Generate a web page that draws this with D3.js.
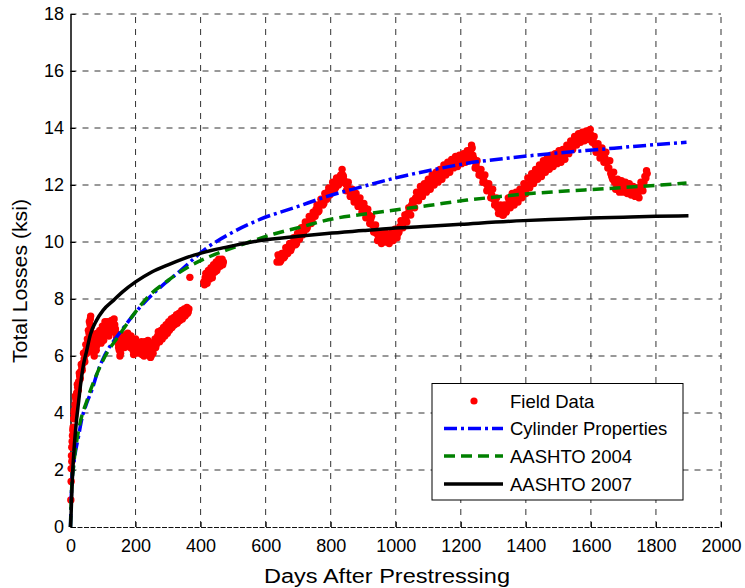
<!DOCTYPE html>
<html><head><meta charset="utf-8">
<script src="https://cdn.jsdelivr.net/npm/d3@7"></script>
<style>body{margin:0;background:#fff}svg{display:block}text{font-family:"Liberation Sans",Arial,Helvetica,sans-serif;fill:#000}</style>
</head><body><svg id="c" width="745" height="588"></svg>
<script>
const xTicks = [0,200,400,600,800,1000,1200,1400,1600,1800,2000];
const yTicks = [0,2,4,6,8,10,12,14,16,18];
const seriesNames = ["Field Data","Cylinder Properties","AASHTO 2004","AASHTO 2007"];

const fieldDaysA = [1,2,2,3,4,5,6,8,10,12,14,16,19,22,25,28,31,35,38,42,45,48,52,55,58,61,63,66,68,71,74,77,80,84,88,92,96,100,104,108,112,116,120,124,128,132,136,140,144,148,152,156,160,164,168,172,176,180,184,188,192,196,200,204,208,212,216,220,224,228,232,236,240,244,248,252,256,260,264,268,272,276,280,284,288,292,296,300,304,308,312,316,320,324,328,332,336,340,344,348,352,356,360,364,
367,
410,414,418,422,426,430,434,438,442,446,450,454,458,462,466,470,
635,641,647,653,659,665,671,677,683,689,695,701,707,713,719,725,731,737,743,749,755,761,767,773,779,785,791,797,803,809,815,821,827,831,835,839,845,851,857,863,869,875,881,887,893,899,905,911,917,923,929,935,941,947,953,959,965,971,977,983,989,995,1001,1007,1013,1019,1025,1031,1037,1043,1049,1055,1061,1067,1073,1079,1085,1091,1097,1103,1109,1115,1121,1127,1133,1139,1145,1151,1157,1163,1169,1175,1181,1187,1193,1199,1205,1211,1217,1223,1229,1233,1237,1241,1247,1253,1259,1265,1271,1277,1283,1289,1295,1301,1307,1313,1319,1325,1331,1337,1343,1349,1355,1361,1367,1373,1379,1385,1391,1397,1403,1409,1415,1421,1427,1433,1439,1445,1451,1457,1463,1469,1475,1481,1487,1493,1499,1505,1511,1517,1523,1529,1535,1541,1547,1553,1559,1565,1571,1577,1583,1589,1595,1601,1607,1613,1619,1625,1631,1637,1643,1649,1655,1661,1667,1673,1679,1685,1691,1697,1703,1709,1715,1721,1727,1733,1739,1745,1751,1757,1763,1769,1773];
const fieldLossA = [0.95,1.6,2.05,2.5,2.8,3.0,3.2,3.5,3.8,4.1,4.3,4.5,4.7,4.9,5.1,5.3,5.45,5.6,5.75,5.9,6.05,6.2,6.6,6.9,7.2,7.3,7.0,6.6,6.3,6.1,6.3,6.5,6.35,6.6,6.8,6.6,6.9,6.7,6.95,7.1,6.8,7.0,6.85,7.15,7.0,7.25,7.1,6.8,6.6,6.3,6.0,6.3,6.6,6.45,6.7,6.5,6.8,6.55,6.3,6.5,6.2,6.4,6.6,6.35,6.15,6.4,6.25,6.05,6.3,6.5,6.2,6.4,6.1,6.3,6.0,6.2,6.45,6.6,6.4,6.7,6.55,6.8,6.65,6.9,6.75,7.0,6.85,7.05,6.9,7.15,7.0,7.2,7.1,7.3,7.15,7.35,7.25,7.45,7.3,7.5,7.4,7.6,7.5,7.65,
8.76,
8.6,8.75,8.65,8.8,8.9,8.8,9.0,8.9,9.05,9.15,9.0,9.2,9.3,9.25,9.4,9.3,
9.3,9.45,9.35,9.6,9.5,9.75,9.85,9.7,9.95,10.1,9.95,10.2,10.35,10.25,10.55,10.45,10.7,10.85,10.7,11.0,11.15,11.05,11.3,11.45,11.35,11.6,11.75,11.65,11.9,12.0,11.9,12.1,12.2,12.35,12.55,12.3,12.05,11.95,11.8,11.65,11.55,11.6,11.4,11.45,11.3,11.15,11.2,11.0,10.95,10.8,10.6,10.45,10.3,10.15,10.05,10.2,10.1,10.3,10.05,10.15,10.35,10.2,10.4,10.3,10.55,10.6,10.75,10.85,11.0,11.15,11.3,11.4,11.55,11.65,11.75,11.7,11.9,11.8,12.0,11.95,12.1,12.2,12.1,12.3,12.25,12.4,12.35,12.5,12.6,12.5,12.7,12.65,12.8,12.75,12.9,12.8,12.95,12.9,13.0,12.95,13.15,13.4,13.05,12.85,12.7,12.55,12.45,12.3,12.15,12.05,11.95,11.8,11.65,11.5,11.35,11.2,11.1,11.05,10.95,11.15,11.3,11.45,11.35,11.55,11.45,11.65,11.55,11.7,11.85,11.8,12.0,11.95,12.15,12.1,12.3,12.25,12.45,12.5,12.45,12.65,12.6,12.75,12.7,12.85,12.8,12.95,12.9,13.0,12.95,13.05,13.15,13.2,13.3,13.4,13.45,13.55,13.6,13.65,13.7,13.75,13.7,13.8,13.85,13.75,13.55,13.4,13.3,13.2,13.15,13.05,12.95,12.8,12.6,12.4,12.2,12.1,12.05,11.95,12.0,11.9,11.95,11.85,11.9,11.8,11.85,11.75,11.8,11.7,11.85,11.95,12.1,12.25,12.4];

const fieldDaysB = [4,7,9,11,13,15,18,21,24,27,30,33,36,40,44,47,50,54,57,60,62,65,67,70,73,76,79,82,86,90,94,98,102,106,110,114,118,122,126,130,134,138,142,146,150,154,158,162,166,170,174,178,182,186,190,194,198,202,206,210,214,218,222,226,230,234,238,242,246,250,254,258,262,266,270,274,278,282,286,290,294,298,302,306,310,314,318,322,326,330,334,338,342,346,350,354,358,362,
412,416,420,424,428,432,436,440,444,448,452,456,460,464,468,
638,644,650,656,662,668,674,680,686,692,698,704,710,716,722,728,734,740,746,752,758,764,770,776,782,788,794,800,806,812,818,824,829,833,837,842,848,854,860,866,872,878,884,890,896,902,908,914,920,926,932,938,944,950,956,962,968,974,980,986,992,998,1004,1010,1016,1022,1028,1034,1040,1046,1052,1058,1064,1070,1076,1082,1088,1094,1100,1106,1112,1118,1124,1130,1136,1142,1148,1154,1160,1166,1172,1178,1184,1190,1196,1202,1208,1214,1220,1226,1231,1235,1239,1244,1250,1256,1262,1268,1274,1280,1286,1292,1298,1304,1310,1316,1322,1328,1334,1340,1346,1352,1358,1364,1370,1376,1382,1388,1394,1400,1406,1412,1418,1424,1430,1436,1442,1448,1454,1460,1466,1472,1478,1484,1490,1496,1502,1508,1514,1520,1526,1532,1538,1544,1550,1556,1562,1568,1574,1580,1586,1592,1598,1604,1610,1616,1622,1628,1634,1640,1646,1652,1658,1664,1670,1676,1682,1688,1694,1700,1706,1712,1718,1724,1730,1736,1742,1748,1754,1760,1766,1771];
const fieldLossB = [2.3,3.4,3.3,4.0,3.9,4.6,4.4,5.0,4.8,5.4,5.2,5.7,5.5,6.1,5.8,6.4,6.1,6.4,6.8,7.1,7.4,6.8,6.2,6.4,6.0,6.6,6.2,6.8,6.5,6.9,6.45,7.05,6.55,7.2,6.9,7.2,6.7,7.0,7.25,6.85,7.3,6.95,6.65,6.45,6.2,6.1,6.45,6.7,6.3,6.75,6.35,6.65,6.4,6.7,6.35,6.05,6.5,6.2,6.45,6.1,6.3,6.5,6.2,6.0,6.4,6.1,6.55,6.2,5.95,6.35,6.1,6.5,6.3,6.55,6.85,6.5,6.9,6.6,7.0,6.7,7.1,6.8,7.2,6.95,7.3,7.05,7.35,7.15,7.45,7.2,7.5,7.3,7.6,7.4,7.65,7.45,7.7,7.55,
8.5,8.9,8.55,9.0,8.7,9.1,8.75,9.2,8.95,9.3,9.1,9.4,9.15,9.35,9.2,
9.55,9.3,9.6,9.45,9.8,9.6,9.95,9.8,10.15,9.9,10.3,10.1,10.5,10.3,10.7,10.5,10.9,10.65,11.05,10.9,11.3,11.1,11.5,11.3,11.7,11.5,11.9,11.7,12.1,11.85,12.25,12.0,12.3,12.1,12.35,12.15,11.8,12.1,11.6,11.85,11.4,11.7,11.25,11.55,11.05,11.35,10.85,11.15,10.65,10.9,10.35,10.6,10.05,10.3,9.95,10.35,10.0,10.25,9.95,10.3,10.05,10.45,10.15,10.35,10.75,10.5,10.95,10.7,11.2,10.95,11.45,11.2,11.75,11.45,11.95,11.6,12.05,11.75,12.2,11.85,12.35,12.0,12.45,12.1,12.55,12.2,12.7,12.35,12.8,12.45,12.9,12.6,13.0,12.65,13.05,12.75,13.1,12.8,13.2,12.85,13.25,13.3,12.95,12.6,12.85,12.35,12.55,12.1,12.35,11.8,12.05,11.55,11.85,11.3,11.55,11.0,11.3,10.95,11.3,11.05,11.55,11.2,11.7,11.3,11.75,11.4,11.85,11.55,12.05,11.7,12.25,11.9,12.4,12.05,12.55,12.2,12.7,12.3,12.85,12.45,12.95,12.55,13.05,12.65,13.1,12.75,13.2,12.8,13.25,12.9,13.4,13.1,13.55,13.25,13.7,13.4,13.8,13.5,13.85,13.55,13.9,13.6,13.95,13.5,13.7,13.15,13.45,12.95,13.3,12.8,13.15,12.6,12.85,12.3,12.45,11.85,12.2,11.75,12.15,11.75,12.1,11.7,12.05,11.65,11.95,11.6,11.9,11.55,12.1,11.8,12.3,12.5];

const cylDays = [0,3,10,25,36,50,67,82,100,154,225,275,328,420,500,584,700,789,900,1000,1100,1219,1350,1495,1628,1750,1894];
const cylLoss = [0,1.3,2.2,3.2,3.85,4.35,4.85,5.4,5.9,6.85,7.85,8.4,8.9,9.8,10.35,10.8,11.25,11.6,11.95,12.25,12.5,12.76,12.95,13.12,13.25,13.37,13.5];

const a04Days = [0,3,10,25,51,75,100,154,200,236,300,358,420,481,550,625,700,809,900,1014,1100,1219,1300,1424,1500,1628,1750,1894];
const a04Loss = [0,1.2,2.2,3.4,4.45,5.2,5.85,6.8,7.55,8.05,8.65,9.1,9.45,9.72,10.0,10.28,10.5,10.82,10.97,11.15,11.28,11.47,11.57,11.71,11.77,11.86,11.95,12.07];

const a07Days = [0,2,5,8,12,18,25,31,40,50,61,80,100,133,160,200,250,300,380,450,500,584,700,789,900,1014,1100,1200,1393,1500,1597,1700,1800,1900];
const a07Loss = [0,0.5,1.5,2.2,2.9,3.7,4.4,5.0,5.7,6.2,6.75,7.25,7.6,7.96,8.25,8.6,8.95,9.2,9.54,9.75,9.87,10.05,10.2,10.3,10.4,10.5,10.55,10.62,10.75,10.8,10.84,10.87,10.9,10.92];

const svg = d3.select("#c");
const L = 70.5, R = 721, T = 14, B = 527;
const x = d3.scaleLinear().domain([0,2000]).range([L,R]);
const y = d3.scaleLinear().domain([0,18]).range([B,T]);

// grid
const grid = svg.append("g").attr("stroke","#333").attr("stroke-width",1).attr("stroke-dasharray","6,6");
grid.selectAll("line.v").data(xTicks.slice(1)).join("line")
  .attr("x1",d=>x(d)).attr("x2",d=>x(d)).attr("y1",B).attr("y2",T);
grid.selectAll("line.h").data(yTicks.slice(1)).join("line")
  .attr("x1",L).attr("x2",R).attr("y1",d=>y(d)).attr("y2",d=>y(d));

// axes
const fmt = d3.format("d");
const xAxis = d3.axisBottom(x).tickValues(xTicks).tickFormat(fmt).tickSizeInner(-5).tickSizeOuter(0).tickPadding(12);
const gx = svg.append("g").attr("transform",`translate(0,${B})`).call(xAxis);
gx.select(".domain").attr("stroke","#111").attr("stroke-width",1.2).attr("stroke-dasharray","5,1.5");
gx.selectAll("text").attr("font-size",18).attr("font-family","Liberation Sans, Arial, sans-serif");
const yAxis = d3.axisLeft(y).tickValues(yTicks).tickFormat(fmt).tickSizeInner(-5).tickSizeOuter(0).tickPadding(6.5);
const gy = svg.append("g").attr("transform",`translate(${L},0)`).call(yAxis);
gy.select(".domain").attr("stroke","#000").attr("stroke-width",1.5);
gy.selectAll("text").attr("font-size",18).attr("font-family","Liberation Sans, Arial, sans-serif");

// data
const field = fieldDaysA.map((d,i)=>[d,fieldLossA[i]]).concat(fieldDaysB.map((d,i)=>[d,fieldLossB[i]]));
svg.append("g").selectAll("circle").data(field).join("circle")
  .attr("cx",d=>x(d[0])).attr("cy",d=>y(d[1])).attr("r",3.7).attr("fill","#ff0000");

const line = d3.line().x(d=>x(d[0])).y(d=>y(d[1])).curve(d3.curveMonotoneX);
const curves = [
  {days:cylDays, loss:cylLoss, color:"#0000ff", dash:"13,4,3,4"},
  {days:a04Days, loss:a04Loss, color:"#008000", dash:"11,6"},
  {days:a07Days, loss:a07Loss, color:"#000000", dash:null}
];
curves.forEach(c=>{
  svg.append("path").datum(c.days.map((d,i)=>[d,c.loss[i]]))
    .attr("d",line).attr("fill","none").attr("stroke",c.color).attr("stroke-width",3.5)
    .attr("stroke-dasharray",c.dash);
});

// labels
svg.append("text").attr("x",387).attr("y",583).attr("text-anchor","middle").attr("font-size",20)
  .attr("textLength",246).attr("lengthAdjust","spacingAndGlyphs").text("Days After Prestressing");
svg.append("text").attr("transform","translate(27,281) rotate(-90)").attr("text-anchor","middle").attr("font-size",20)
  .attr("textLength",164).attr("lengthAdjust","spacingAndGlyphs").text("Total Losses (ksi)");

// legend
const lg = svg.append("g");
lg.append("rect").attr("x",432).attr("y",383.5).attr("width",251).attr("height",116.5).attr("fill","#fff").attr("stroke","#000").attr("stroke-width",1);
const rows = [401,428.5,456,484];
lg.append("circle").attr("cx",474).attr("cy",rows[0]).attr("r",3.6).attr("fill","#ff0000");
curves.forEach((c,i)=>{
  lg.append("line").attr("x1",444).attr("x2",503).attr("y1",rows[i+1]).attr("y2",rows[i+1])
    .attr("stroke",c.color).attr("stroke-width",3.5).attr("stroke-dasharray",c.dash);
});
seriesNames.forEach((n,i)=>{
  lg.append("text").attr("x",510).attr("y",rows[i]+6.5).attr("font-size",18.5).text(n);
});
</script></body></html>
